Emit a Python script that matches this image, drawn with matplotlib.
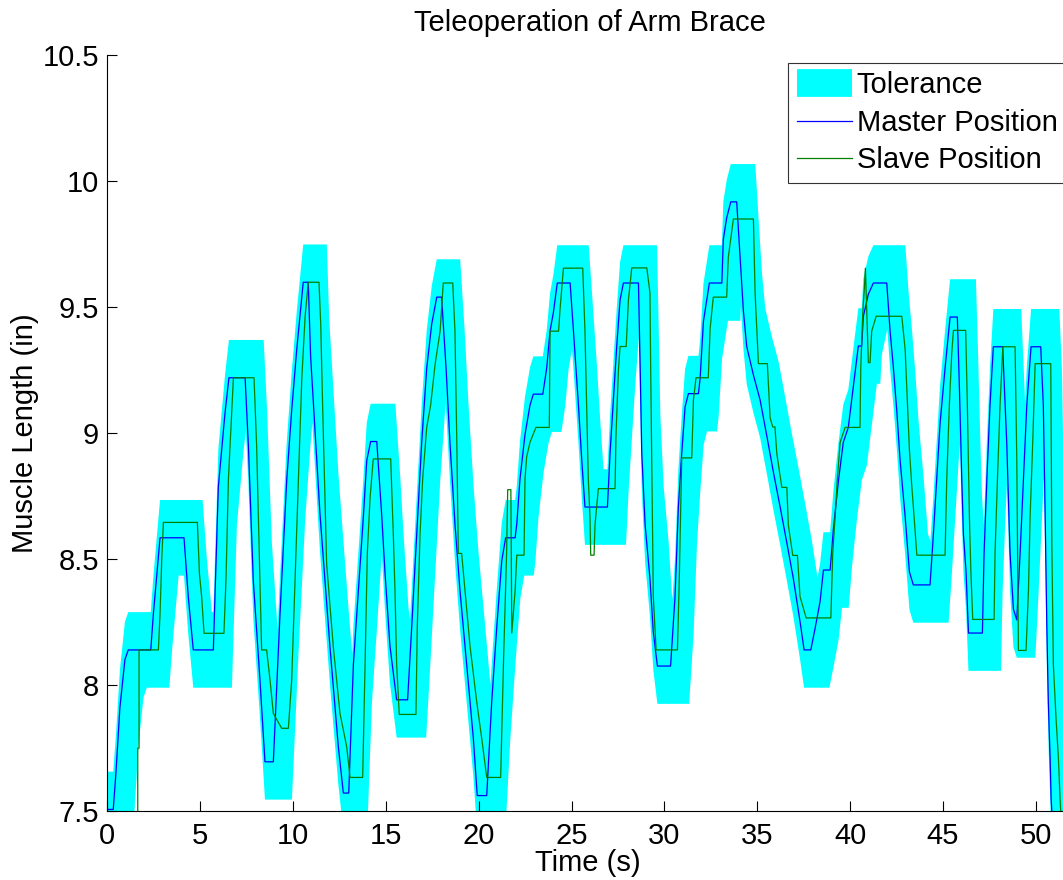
import matplotlib
matplotlib.use("Agg")
import matplotlib.pyplot as plt
from matplotlib.lines import Line2D
import numpy as np

# ---------------- data ----------------
master_t = [0.0, 0.32, 0.47, 0.68, 0.95, 1.13, 2.34, 2.48, 2.84, 4.13, 4.36, 4.63, 5.71, 5.98, 6.34, 6.55,
            7.42, 7.6, 7.86, 8.22, 8.49, 8.94, 9.3, 9.66, 9.93, 10.2, 10.55, 10.82, 10.95, 11.45, 11.99,
            12.44, 12.71, 13.0, 13.25, 13.52, 13.79, 13.97, 14.18, 14.51, 14.78, 14.95, 15.22, 15.58,
            16.17, 16.39, 16.66, 16.93, 17.2, 17.47, 17.74, 18.0, 18.24, 18.45, 18.72, 18.99, 19.35,
            19.71, 19.92, 20.43, 20.7, 20.97, 21.24, 21.45, 21.96, 22.05, 22.22, 22.49, 22.76, 22.94,
            23.45, 23.66, 23.84, 24.02, 24.23, 24.92, 25.1, 25.37, 25.55, 25.72, 26.93, 27.07, 27.25,
            27.43, 27.61, 27.79, 28.6, 28.69, 28.78, 28.96, 29.22, 29.4, 29.62, 30.33, 30.57, 30.75,
            30.93, 31.11, 31.29, 31.83, 31.92, 32.1, 32.42, 33.09, 33.17, 33.35, 33.57, 33.89, 34.07,
            34.25, 34.43, 34.79, 35.15, 35.51, 35.86, 36.23, 36.59, 36.94, 37.3, 37.52, 37.88, 38.11,
            38.38, 38.56, 38.92, 39.1, 39.37, 39.63, 39.9, 40.17, 40.44, 40.62, 40.71, 40.98, 41.25,
            41.97, 42.15, 42.33, 42.51, 42.69, 42.96, 43.19, 43.4, 44.3, 44.48, 44.66, 44.84, 45.11,
            45.38, 45.77, 45.88, 46.01, 46.1, 46.24, 46.37, 47.12, 47.21, 47.36, 47.53, 47.71, 48.21,
            48.43, 48.61, 48.79, 48.97, 49.15, 49.33, 49.51, 49.74, 50.26, 50.4, 50.5, 50.59, 50.67,
            50.77, 50.82, 51.0]
master_v = [7.505, 7.505, 7.655, 7.91, 8.10, 8.138, 8.138, 8.28, 8.583, 8.583, 8.35, 8.138, 8.138, 8.786,
            9.08, 9.218, 9.218, 8.944, 8.415, 8.02, 7.694, 7.694, 8.28, 8.81, 9.09, 9.33, 9.597, 9.597,
            9.3, 8.68, 8.15, 7.754, 7.57, 7.57, 8.08, 8.374, 8.668, 8.889, 8.965, 8.965, 8.668, 8.448,
            8.154, 7.94, 7.94, 8.227, 8.595, 8.962, 9.257, 9.432, 9.538, 9.538, 9.257, 8.962, 8.639,
            8.374, 8.08, 7.787, 7.56, 7.56, 7.933, 8.227, 8.492, 8.583, 8.583, 8.639, 8.815, 8.992,
            9.109, 9.153, 9.153, 9.257, 9.404, 9.477, 9.594, 9.594, 9.404, 9.109, 8.889, 8.705, 8.705,
            8.917, 9.13, 9.342, 9.527, 9.594, 9.594, 9.271, 8.917, 8.634, 8.421, 8.209, 8.074, 8.074,
            8.35, 8.705, 8.917, 9.102, 9.155, 9.155, 9.215, 9.442, 9.594, 9.594, 9.767, 9.852, 9.916,
            9.916, 9.697, 9.484, 9.342, 9.229, 9.13, 8.988, 8.846, 8.705, 8.563, 8.421, 8.251, 8.138,
            8.138, 8.223, 8.33, 8.455, 8.455, 8.62, 8.81, 8.962, 9.021, 9.183, 9.344, 9.344, 9.462,
            9.55, 9.594, 9.594, 9.403, 9.256, 9.087, 8.889, 8.668, 8.448, 8.396, 8.396, 8.595, 8.815,
            9.036, 9.256, 9.459, 9.459, 9.183, 8.815, 8.595, 8.448, 8.205, 8.205, 8.521, 8.815, 9.109,
            9.341, 9.341, 8.962, 8.521, 8.30, 8.257, 8.521, 8.815, 9.109, 9.341, 9.341, 9.109, 8.668,
            8.227, 7.933, 7.698, 7.55, 7.3]

slave_t = [0.0, 1.64, 1.64, 1.71, 1.71, 2.75, 2.84, 2.93, 3.02, 4.85, 4.96, 5.08, 5.21, 6.28, 6.39, 6.52,
           6.7, 6.79, 7.9, 8.04, 8.22, 8.31, 8.58, 8.76, 8.94, 9.39, 9.75, 9.93, 10.11, 10.29, 10.47,
           10.65, 10.82, 11.4, 11.49, 11.6, 11.81, 12.17, 12.53, 12.89, 13.07, 13.75, 13.88, 14.0,
           14.15, 14.32, 15.26, 15.4, 15.49, 15.58, 15.72, 16.62, 16.69, 16.84, 16.98, 17.2, 17.41,
           17.65, 17.92, 18.09, 18.6, 18.72, 18.82, 18.9, 19.08, 19.26, 19.53, 19.89, 20.16, 20.43,
           21.18, 21.33, 21.5, 21.56, 21.73, 21.78, 21.96, 22.05, 22.44, 22.49, 22.58, 22.76, 23.08,
           23.8, 23.84, 24.3, 24.38, 24.56, 25.6, 25.72, 25.82, 25.9, 25.99, 26.03, 26.21, 26.26,
           26.44, 27.34, 27.39, 27.52, 27.61, 27.94, 28.06, 28.24, 29.05, 29.22, 29.26, 29.32, 29.4,
           29.55, 30.7, 30.8, 30.93, 31.47, 31.56, 31.7, 32.36, 32.46, 32.63, 33.35, 33.44, 33.71,
           34.79, 34.88, 34.97, 35.06, 35.54, 35.69, 35.83, 35.95, 36.05, 36.32, 36.59, 36.67, 36.91,
           37.16, 37.3, 37.63, 38.96, 39.06, 39.19, 39.31, 39.46, 39.73, 40.53, 40.57, 40.68, 40.77,
           40.82, 40.98, 41.07, 41.16, 41.4, 42.78, 42.96, 43.08, 43.19, 43.32, 43.44, 43.59, 45.11,
           45.2, 45.34, 45.47, 45.56, 46.22, 46.31, 46.42, 46.5, 46.6, 47.75, 47.8, 47.93, 48.07,
           48.22, 48.88, 48.97, 49.06, 49.47, 49.6, 49.69, 49.83, 49.96, 50.8, 50.86, 50.94, 51.09,
           51.21, 51.3, 51.45]
slave_v = [7.3, 7.3, 7.748, 7.748, 8.138, 8.138, 8.28, 8.495, 8.644, 8.644, 8.442, 8.35, 8.204, 8.204,
           8.415, 8.812, 9.077, 9.218, 9.218, 8.95, 8.415, 8.138, 8.138, 8.02, 7.886, 7.827, 7.827,
           8.02, 8.415, 8.81, 9.21, 9.46, 9.597, 9.597, 9.434, 9.09, 8.48, 8.15, 7.886, 7.754, 7.632,
           7.632, 8.08, 8.521, 8.742, 8.896, 8.896, 8.595, 8.374, 8.08, 7.882, 7.882, 8.227, 8.595,
           8.815, 9.021, 9.109, 9.271, 9.403, 9.594, 9.594, 9.403, 8.962, 8.521, 8.521, 8.374, 8.154,
           7.933, 7.787, 7.632, 7.632, 8.08, 8.521, 8.774, 8.774, 8.205, 8.374, 8.514, 8.514, 8.815,
           8.904, 8.962, 9.021, 9.021, 9.403, 9.403, 9.491, 9.653, 9.653, 9.403, 9.08, 8.815, 8.668,
           8.514, 8.514, 8.634, 8.778, 8.778, 8.988, 9.246, 9.342, 9.342, 9.527, 9.654, 9.654, 9.555,
           9.243, 8.846, 8.35, 8.138, 8.138, 8.421, 8.9, 8.9, 9.13, 9.218, 9.218, 9.413, 9.538, 9.538,
           9.697, 9.848, 9.848, 9.555, 9.413, 9.274, 9.274, 9.059, 9.023, 9.023, 8.917, 8.783, 8.783,
           8.634, 8.513, 8.513, 8.35, 8.265, 8.265, 8.521, 8.668, 8.815, 8.962, 9.021, 9.021, 9.256,
           9.477, 9.58, 9.653, 9.278, 9.278, 9.403, 9.462, 9.462, 9.33, 9.124, 8.933, 8.786, 8.668,
           8.514, 8.514, 8.815, 9.109, 9.315, 9.406, 9.406, 9.109, 8.668, 8.448, 8.259, 8.259, 8.521,
           8.815, 9.109, 9.341, 9.341, 8.9, 8.136, 8.136, 8.374, 8.668, 8.962, 9.274, 9.274, 8.551,
           8.08, 7.86, 7.713, 7.55, 7.35]

tol_up_t = [0.0, 0.32, 0.47, 0.68, 0.95, 1.13, 2.34, 2.48, 2.84, 5.13, 5.36, 5.63, 5.71, 5.98, 6.34, 6.55,
            8.42, 8.60, 8.86, 9.17, 9.30, 9.66, 9.93, 10.2, 10.55, 11.82, 11.95, 12.45, 12.99, 13.19,
            13.25, 13.52, 13.79, 13.97, 14.18, 15.51, 15.78, 15.95, 16.22, 16.30, 16.39, 16.66, 16.93,
            17.2, 17.47, 17.74, 19.0, 19.24, 19.45, 19.72, 19.99, 20.35, 20.63, 20.7, 20.97, 21.24,
            21.45, 21.96, 22.05, 22.22, 22.49, 22.76, 22.94, 23.45, 23.66, 23.84, 24.02, 24.23, 25.92,
            26.1, 26.37, 26.55, 26.72, 26.93, 27.07, 27.25, 27.43, 27.61, 27.79, 29.6, 29.69, 29.78,
            29.96, 30.22, 30.4, 30.43, 30.57, 30.75, 30.93, 31.11, 31.29, 31.83, 31.92, 32.1, 32.42,
            33.09, 33.17, 33.35, 33.57, 34.89, 35.07, 35.25, 35.43, 35.79, 36.15, 36.51, 36.86, 37.23,
            37.59, 37.94, 38.24, 38.38, 38.56, 38.92, 39.1, 39.37, 39.63, 39.9, 40.17, 40.44, 40.62,
            40.71, 40.98, 41.25, 42.97, 43.15, 43.33, 43.51, 43.69, 43.96, 44.19, 44.32, 44.48, 44.66,
            44.84, 45.11, 45.38, 46.77, 46.88, 47.01, 47.1, 47.2, 47.36, 47.53, 47.71, 49.21, 49.42,
            49.51, 49.74, 51.26, 51.4, 51.5, 51.7]
tol_up_v = [7.655, 7.655, 7.805, 8.06, 8.25, 8.288, 8.288, 8.43, 8.733, 8.733, 8.50, 8.288, 8.288, 8.936,
            9.23, 9.368, 9.368, 9.094, 8.565, 8.22, 8.43, 8.96, 9.24, 9.48, 9.747, 9.747, 9.45, 8.83,
            8.30, 8.12, 8.23, 8.524, 8.818, 9.039, 9.115, 9.115, 8.818, 8.598, 8.304, 8.257, 8.377,
            8.745, 9.112, 9.407, 9.582, 9.688, 9.688, 9.407, 9.112, 8.789, 8.524, 8.23, 8.0, 8.083,
            8.377, 8.642, 8.733, 8.733, 8.789, 8.965, 9.142, 9.259, 9.303, 9.303, 9.407, 9.554, 9.627,
            9.744, 9.744, 9.554, 9.259, 9.039, 8.855, 8.855, 9.067, 9.28, 9.492, 9.677, 9.744, 9.744,
            9.421, 9.067, 8.784, 8.571, 8.359, 8.34, 8.5, 8.855, 9.067, 9.252, 9.305, 9.305, 9.365,
            9.592, 9.744, 9.744, 9.917, 10.002, 10.066, 10.066, 9.847, 9.634, 9.492, 9.379, 9.28,
            9.138, 8.996, 8.855, 8.713, 8.571, 8.426, 8.48, 8.605, 8.605, 8.77, 8.96, 9.112, 9.171,
            9.333, 9.494, 9.494, 9.612, 9.70, 9.744, 9.744, 9.553, 9.406, 9.237, 9.039, 8.818, 8.598,
            8.57, 8.745, 8.965, 9.186, 9.406, 9.609, 9.609, 9.333, 8.965, 8.745, 8.633, 8.965, 9.259,
            9.491, 9.491, 9.12, 9.259, 9.491, 9.491, 9.259, 8.818, 8.0]

tol_lo_t = [0.0, 1.32, 1.47, 1.68, 1.95, 2.13, 3.34, 3.48, 3.84, 4.13, 4.36, 4.63, 6.71, 6.98, 7.34, 7.46,
            7.6, 7.86, 8.22, 8.49, 9.94, 10.3, 10.66, 10.93, 11.04, 11.45, 11.99, 12.44, 12.71, 14.0,
            14.25, 14.52, 14.78, 14.95, 15.22, 15.58, 17.17, 17.39, 17.66, 17.93, 18.22, 18.45, 18.72,
            18.99, 19.35, 19.71, 19.92, 21.43, 21.7, 21.97, 22.24, 22.45, 22.96, 23.05, 23.22, 23.49,
            23.76, 23.94, 24.45, 24.66, 24.84, 25.02, 25.1, 25.37, 25.55, 25.72, 27.93, 28.07, 28.25,
            28.43, 28.62, 28.69, 28.78, 28.96, 29.22, 29.4, 29.62, 31.33, 31.57, 31.75, 31.93, 32.11,
            32.29, 32.83, 32.92, 33.1, 33.42, 34.09, 34.115, 34.25, 34.43, 34.79, 35.15, 35.51, 35.86,
            36.23, 36.59, 36.94, 37.3, 37.52, 38.88, 39.11, 39.38, 39.56, 39.92, 40.1, 40.37, 40.63,
            40.9, 41.17, 41.44, 41.62, 41.71, 42.0, 42.15, 42.33, 42.51, 42.69, 42.96, 43.19, 43.4,
            45.3, 45.48, 45.66, 45.84, 45.91, 46.01, 46.1, 46.24, 46.37, 48.12, 48.21, 48.36, 48.44,
            48.61, 48.79, 48.97, 49.97, 50.15, 50.33, 50.43, 50.5, 50.59, 50.67, 50.77, 50.82, 51.0,
            51.7]
tol_lo_v = [7.355, 7.355, 7.505, 7.76, 7.95, 7.988, 7.988, 8.13, 8.433, 8.433, 8.20, 7.988, 7.988, 8.636,
            8.93, 9.007, 8.794, 8.265, 7.87, 7.544, 7.544, 8.13, 8.66, 8.94, 9.04, 8.53, 8.0, 7.604,
            7.42, 7.42, 7.93, 8.224, 8.518, 8.298, 8.004, 7.79, 7.79, 8.077, 8.445, 8.812, 9.12, 8.812,
            8.489, 8.224, 7.93, 7.637, 7.41, 7.41, 7.783, 8.077, 8.342, 8.433, 8.433, 8.489, 8.665,
            8.842, 8.959, 9.003, 9.003, 9.107, 9.254, 9.33, 9.254, 8.959, 8.739, 8.555, 8.555, 8.767,
            8.98, 9.192, 9.376, 9.121, 8.767, 8.484, 8.271, 8.059, 7.924, 7.924, 8.2, 8.555, 8.767,
            8.952, 9.005, 9.005, 9.065, 9.292, 9.444, 9.444, 9.50, 9.334, 9.192, 9.079, 8.98, 8.838,
            8.696, 8.555, 8.413, 8.271, 8.101, 7.988, 7.988, 8.073, 8.18, 8.305, 8.305, 8.47, 8.66,
            8.812, 8.871, 9.033, 9.194, 9.194, 9.312, 9.41, 9.253, 9.106, 8.937, 8.739, 8.518, 8.298,
            8.246, 8.246, 8.445, 8.665, 8.886, 8.95, 8.665, 8.445, 8.298, 8.055, 8.055, 8.371, 8.665,
            8.795, 8.371, 8.15, 8.107, 8.107, 8.371, 8.665, 8.82, 8.518, 8.077, 7.783, 7.548, 7.40,
            7.15, 7.0]

x_ticks = [0, 5, 10, 15, 20, 25, 30, 35, 40, 45, 50]
y_ticks = [7.5, 8.0, 8.5, 9.0, 9.5, 10.0, 10.5]
y_tick_labels = ["7.5", "8", "8.5", "9", "9.5", "10", "10.5"]
series_labels = ["Tolerance", "Master Position", "Slave Position"]
title_text = "Teleoperation of Arm Brace"
x_label = "Time (s)"
y_label = "Muscle Length (in)"

# ---------------- figure ----------------
plt.rcParams['font.family'] = ['Liberation Sans', 'DejaVu Sans']
FS = 21
W, H = 1063, 880
fig = plt.figure(figsize=(W / 100, H / 100), dpi=100)
ax = fig.add_axes([107.3 / W, 1 - 810.7 / H, (W - 107.3) / W, (810.7 - 54.7) / H])

CYAN, BLUE, GREEN = '#00ffff', '#0000ff', '#008000'

poly_t = np.concatenate([tol_up_t, tol_lo_t[::-1]])
poly_v = np.concatenate([tol_up_v, tol_lo_v[::-1]])
ax.fill(poly_t, poly_v, color=CYAN, lw=0, zorder=1)
ax.plot(master_t, master_v, color=BLUE, lw=0.9, zorder=2)
ax.plot(slave_t, slave_v, color=GREEN, lw=0.9, zorder=3)

ax.set_xlim(0, 51.46)
ax.set_ylim(7.5, 10.5)
ax.set_xticks(x_ticks)
ax.set_xticklabels([str(v) for v in x_ticks])
ax.set_yticks(y_ticks)
ax.set_yticklabels(y_tick_labels)
for s in ['top', 'right']:
    ax.spines[s].set_visible(False)
for s in ['left', 'bottom']:
    ax.spines[s].set_linewidth(0.8)
    ax.spines[s].set_color('black')
ax.tick_params(direction='in', length=7.2, width=0.8, labelsize=FS, colors='black')
ax.tick_params(axis='x', pad=8)
ax.tick_params(axis='y', pad=6)

fig.text(590 / W, 1 - 30.7 / H, title_text, ha='center', va='baseline', fontsize=FS)
fig.text(588 / W, 1 - 870.7 / H, x_label, ha='center', va='baseline', fontsize=FS)
fig.text(25 / W, 1 - 432.7 / H, y_label, ha='center', va='center', rotation=90, fontsize=FS)

handles = [Line2D([], [], color=CYAN, lw=20, solid_capstyle='butt'),
           Line2D([], [], color=BLUE, lw=0.9),
           Line2D([], [], color=GREEN, lw=0.9)]
leg = fig.legend(handles, series_labels, loc='upper left',
                 bbox_to_anchor=(788.3 / W, 1 - 62.7 / H), bbox_transform=fig.transFigure,
                 borderaxespad=0, fontsize=FS, frameon=True, fancybox=False,
                 edgecolor='#333333', framealpha=1, handlelength=1.89, handletextpad=0.15,
                 borderpad=0.3, labelspacing=0.32)
leg.get_frame().set_linewidth(0.8)

fig.savefig('out.png', dpi=100)
